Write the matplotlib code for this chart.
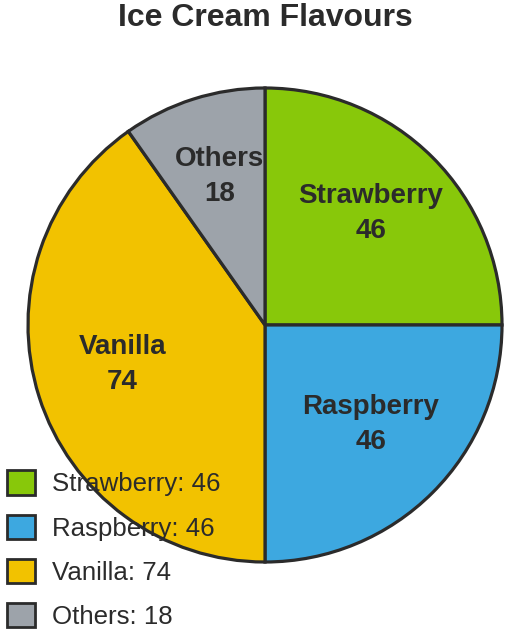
import matplotlib
matplotlib.use("Agg")
import matplotlib.pyplot as plt
from matplotlib.patches import Patch
from matplotlib.transforms import offset_copy

categories = ["Strawberry", "Raspberry", "Vanilla", "Others"]
values = [46, 46, 74, 18]
colors = ["#88C80A", "#3DA8E0", "#F2C200", "#9DA3AA"]
title = "Ice Cream Flavours"

plt.rcParams['font.family'] = ['Liberation Sans', 'DejaVu Sans']
TXT = "#2B2B2B"
EDGE = "#2B2B2B"

W, H = 513, 637
fig = plt.figure(figsize=(W / 100, H / 100), dpi=100)
cx, cy, r = 265, 325, 237
ax = fig.add_axes([(cx - r) / W, (H - cy - r) / H, 2 * r / W, 2 * r / H])

labels = [f"{c}\n{v}" for c, v in zip(categories, values)]
wedges, texts = ax.pie(values, colors=colors, labels=labels, startangle=90,
                       counterclock=False, radius=1.0, labeldistance=0.63,
                       wedgeprops=dict(edgecolor=EDGE, linewidth=2.3),
                       textprops=dict(color=TXT, fontsize=20, fontweight='bold'))
for t in texts:
    t.set_ha('center')
    t.set_va('center')
    t.set_linespacing(1.45)
    t.set_transform(offset_copy(t.get_transform(), fig=fig, x=0, y=6, units='dots'))
ax.set_xlim(-1.0, 1.0)
ax.set_ylim(-1.0, 1.0)
ax.axis('off')

fig.text(cx / W, 1 - 18 / H, title, ha='center', va='center',
         fontsize=23, fontweight='bold', color=TXT)

handles = [Patch(facecolor=c, edgecolor=EDGE, linewidth=2) for c in colors]
leg_labels = [f"{c}: {v}" for c, v in zip(categories, values)]
leg = fig.legend(handles, leg_labels, loc='lower left',
                 bbox_to_anchor=(2 / W, 3 / H), frameon=False,
                 fontsize=18.6, handlelength=1.08, handleheight=1.08,
                 handletextpad=0.66, labelspacing=0.7, borderaxespad=0,
                 borderpad=0.2)
for t in leg.get_texts():
    t.set_color(TXT)

fig.savefig("out.png", dpi=100)
